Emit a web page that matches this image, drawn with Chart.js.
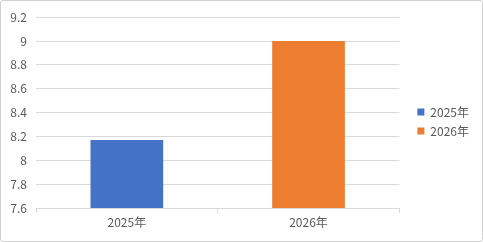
<!DOCTYPE html>
<html>
<head>
<meta charset="utf-8">
<script src="https://cdn.jsdelivr.net/npm/chart.js@4.4.1/dist/chart.umd.min.js"></script>
<style>
  html, body { margin: 0; padding: 0; background: #fff; }
  #box {
    width: 483px; height: 242px; box-sizing: border-box;
    border: 1px solid #d0d0d0; border-radius: 3px; background: #fff;
  }
  #chart { display: block; }
</style>
</head>
<body>
<div id="box"><canvas id="chart" width="481" height="240"></canvas></div>
<script>
// ---------- Data ----------
const categories = ['2025年', '2026年'];
const values = [8.17, 9.0];
const barColors = ['#4472C4', '#ED7D31'];
const yMin = 7.6;
const yMax = 9.2;
const yStep = 0.2;

// ---------- Layout tweaks ----------
const LEGEND_SHIFT = 11; // gap between plot area and legend
const LEGEND_LIFT = 6;

const legendShift = {
  id: 'legendShift',
  beforeLayout(chart) {
    const lg = chart.legend;
    if (!lg || lg._wrapped) return;
    const fit = lg.fit.bind(lg);
    lg.fit = function () { fit(); this.width += LEGEND_SHIFT; };
    lg._wrapped = true;
  },
  afterLayout(chart) {
    const lg = chart.legend;
    if (!lg) return;
    lg.left += LEGEND_SHIFT;
    lg.right += LEGEND_SHIFT;
    lg.top -= LEGEND_LIFT;
    lg.bottom -= LEGEND_LIFT;
  }
};

Chart.defaults.font.family = '"Noto Sans CJK SC", "Noto Sans", sans-serif';
Chart.defaults.font.size = 12;
Chart.defaults.color = '#595959';

const ctx = document.getElementById('chart').getContext('2d');
new Chart(ctx, {
  type: 'bar',
  data: {
    labels: categories,
    // one dataset per year so the legend shows both colours
    datasets: categories.map((name, i) => ({
      label: name,
      data: categories.map((_, j) => (j === i ? values[i] : null)),
      backgroundColor: barColors[i],
      borderWidth: 0,
      categoryPercentage: 0.8,
      barPercentage: 0.5,
      grouped: false
    }))
  },
  options: {
    responsive: false,
    animation: false,
    layout: { padding: { top: 13, right: 3, bottom: 0, left: 0 } },
    plugins: {
      tooltip: { enabled: false },
      legend: {
        position: 'right',
        labels: {
          boxWidth: 7,
          boxHeight: 7,
          padding: 7,
          color: '#595959',
          font: { size: 12 }
        }
      }
    },
    scales: {
      x: {
        grid: {
          display: true,
          drawOnChartArea: false,
          color: '#d9d9d9',
          tickLength: 5
        },
        border: { display: true, color: '#d9d9d9' },
        ticks: { padding: 2, color: '#595959' },
        afterFit(s) { s.height = 33; }
      },
      y: {
        min: yMin,
        max: yMax,
        grid: { color: '#d9d9d9', drawTicks: false },
        border: { display: false },
        ticks: {
          stepSize: yStep,
          padding: 9,
          color: '#595959',
          callback: v => String(Math.round(v * 10) / 10)
        },
        afterFit(s) { s.width = 35; }
      }
    }
  },
  plugins: [legendShift]
});
</script>
</body>
</html>
